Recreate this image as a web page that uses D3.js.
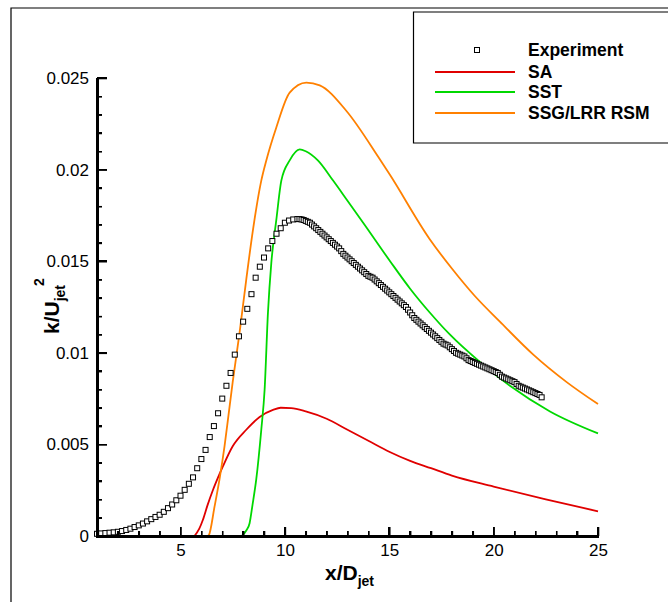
<!DOCTYPE html>
<html>
<head>
<meta charset="utf-8">
<script src="https://cdn.jsdelivr.net/npm/d3@7"></script>
<style>
  body { margin: 0; background: #fff; }
  #chart { position: relative; width: 668px; height: 602px; }
  svg { display: block; font-family: "Liberation Sans", Arial, Helvetica, sans-serif; }
  .tick text { font-size: 17px; fill: #000; }
  .legend text { font-size: 17.5px; font-weight: bold; }
  .ink { position: absolute; background: #000; }
</style>
</head>
<body>
<div id="chart"></div>
<script>
const xTicks = [5, 10, 15, 20, 25];
const xMinorTicks = [2, 3, 4, 6, 7, 8, 9, 11, 12, 13, 14, 16, 17, 18, 19, 21, 22, 23, 24];
const yTicks = [0, 0.005, 0.01, 0.015, 0.02, 0.025];
const yTickLabels = ["0", "0.005", "0.01", "0.015", "0.02", "0.025"];
const yMinorTicks = [0.001, 0.002, 0.003, 0.004, 0.006, 0.007, 0.008, 0.009, 0.011, 0.012, 0.013, 0.014,
  0.016, 0.017, 0.018, 0.019, 0.021, 0.022, 0.023, 0.024];

const seriesNames = ["Experiment", "SA", "SST", "SSG/LRR RSM"];

const experiment = [
  [1.0, 0.00012], [1.2, 0.00014], [1.4, 0.00016], [1.6, 0.00018], [1.8, 0.0002], [2.0, 0.00023],
  [2.2, 0.00027], [2.4, 0.00033], [2.6, 0.0004], [2.8, 0.00049], [3.0, 0.00058], [3.2, 0.00068],
  [3.4, 0.0008], [3.6, 0.00092], [3.8, 0.00104], [4.0, 0.00116], [4.2, 0.00132], [4.4, 0.00152],
  [4.6, 0.00172], [4.8, 0.00195], [5.0, 0.0022], [5.2, 0.00252], [5.4, 0.00285], [5.6, 0.0032],
  [5.8, 0.0037], [6.0, 0.0042], [6.2, 0.0047], [6.4, 0.0054], [6.6, 0.006], [6.8, 0.0067],
  [7.0, 0.0075], [7.2, 0.0082], [7.4, 0.0089], [7.6, 0.0099], [7.8, 0.0109], [8.0, 0.0117],
  [8.2, 0.0124], [8.4, 0.0132], [8.6, 0.0141], [8.8, 0.0147], [9.0, 0.0152], [9.2, 0.0157],
  [9.4, 0.0161], [9.6, 0.0165], [9.8, 0.0168], [10.0, 0.0171], [10.2, 0.01722], [10.4, 0.01728],
  [10.6, 0.0173], [10.7, 0.0173], [10.8, 0.01728], [10.9, 0.01725], [11.0, 0.0172], [11.1, 0.01715],
  [11.2, 0.0171], [11.3, 0.017], [11.4, 0.0169], [11.5, 0.0168], [11.6, 0.0167], [11.7, 0.0166],
  [11.8, 0.0165], [11.9, 0.0164], [12.0, 0.0163], [12.1, 0.0162], [12.2, 0.0161], [12.3, 0.016],
  [12.4, 0.0159], [12.5, 0.0158], [12.6, 0.0157], [12.7, 0.01555], [12.8, 0.0154], [12.9, 0.0153],
  [13.0, 0.0152], [13.1, 0.0151], [13.2, 0.015], [13.3, 0.0149], [13.4, 0.0148], [13.5, 0.0147],
  [13.6, 0.0146], [13.7, 0.0145], [13.8, 0.0144], [13.9, 0.0143], [14.0, 0.0142], [14.1, 0.01415],
  [14.2, 0.0141], [14.3, 0.014], [14.4, 0.0139], [14.5, 0.0138], [14.6, 0.0137], [14.7, 0.0136],
  [14.8, 0.0135], [14.9, 0.0134], [15.0, 0.0133], [15.1, 0.0132], [15.2, 0.0131], [15.3, 0.013],
  [15.4, 0.0129], [15.5, 0.0128], [15.6, 0.0127], [15.7, 0.0126], [15.8, 0.0125], [15.9, 0.01235],
  [16.0, 0.0122], [16.1, 0.01205], [16.2, 0.0119], [16.3, 0.0118], [16.4, 0.0117], [16.5, 0.0116],
  [16.6, 0.0115], [16.7, 0.0114], [16.8, 0.0113], [16.9, 0.0112], [17.0, 0.0111], [17.1, 0.011],
  [17.2, 0.0109], [17.3, 0.0108], [17.4, 0.0107], [17.5, 0.0106], [17.6, 0.0105], [17.7, 0.01045],
  [17.8, 0.0104], [17.9, 0.0103], [18.0, 0.0102], [18.1, 0.0101], [18.2, 0.01], [18.3, 0.00995],
  [18.4, 0.0099], [18.5, 0.00985], [18.6, 0.0098], [18.7, 0.0097], [18.8, 0.0096], [18.9, 0.00955],
  [19.0, 0.0095], [19.1, 0.00945], [19.2, 0.0094], [19.3, 0.00935], [19.4, 0.0093], [19.5, 0.00925],
  [19.6, 0.0092], [19.7, 0.00915], [19.8, 0.0091], [19.9, 0.00905], [20.0, 0.009], [20.1, 0.00895],
  [20.2, 0.0089], [20.3, 0.0088], [20.4, 0.0087], [20.5, 0.00865], [20.6, 0.0086], [20.7, 0.00855],
  [20.8, 0.0085], [20.9, 0.00845], [21.0, 0.0084], [21.1, 0.0083], [21.2, 0.0082], [21.3, 0.00815],
  [21.4, 0.0081], [21.5, 0.00805], [21.6, 0.008], [21.7, 0.00795], [21.8, 0.0079], [21.9, 0.00785],
  [22.0, 0.0078], [22.1, 0.00775], [22.2, 0.0077], [22.3, 0.00757]
];

const sa = [
  [5.67, 0], [5.9, 0.0004], [6.07, 0.00087], [6.3, 0.0017], [6.55, 0.0025], [6.8, 0.0032],
  [7.03, 0.0038], [7.5, 0.0049], [8.15, 0.0058], [8.79, 0.0065], [9.43, 0.00688], [9.8, 0.007],
  [10.3, 0.00698], [11.0, 0.0068], [12.0, 0.0064], [13.0, 0.0058], [14.0, 0.0052], [15.0, 0.0046],
  [16.0, 0.0041], [17.0, 0.0037], [18.0, 0.0033], [20.0, 0.0027], [22.5, 0.002], [25.0, 0.00135]
];

const sst = [
  [7.9, 0], [7.97, 0.00005], [8.15, 0.0003], [8.31, 0.0007], [8.45, 0.0017], [8.63, 0.0031],
  [8.87, 0.0058], [9.03, 0.008], [9.19, 0.0122], [9.35, 0.0149], [9.59, 0.01725], [9.83, 0.0194],
  [10.23, 0.0205], [10.71, 0.0211], [11.0, 0.021], [11.58, 0.0205], [12.31, 0.0194], [13.0, 0.0183],
  [13.75, 0.0171], [15.04, 0.015], [16.0, 0.0135], [16.94, 0.0122], [17.9, 0.011], [19.34, 0.0095],
  [20.78, 0.0082], [22.7, 0.0068], [25.0, 0.0056]
];

const rsm = [
  [6.3, 0], [6.36, 0.00005], [6.63, 0.0016], [6.87, 0.0031], [7.11, 0.0049], [7.3, 0.0066],
  [7.5, 0.0084], [7.83, 0.0111], [8.15, 0.014], [8.47, 0.0167], [8.87, 0.0194], [9.11, 0.0205],
  [9.59, 0.0223], [10.23, 0.0242], [11.03, 0.02475], [11.67, 0.0246], [12.95, 0.0232], [14.47, 0.0207],
  [15.04, 0.0197], [16.94, 0.0162], [18.0, 0.0146], [19.1, 0.0131], [20.3, 0.0117], [21.9, 0.0099],
  [23.5, 0.0084], [25.0, 0.0072]
];

const width = 668, height = 602;
const plot = { left: 97, right: 598, top: 78, bottom: 536 };

const chart = d3.select("#chart");
const svg = chart.append("svg")
  .attr("width", width)
  .attr("height", height);

const x = d3.scaleLinear().domain([1, 25]).range([plot.left, plot.right]);
const y = d3.scaleLinear().domain([0, 0.025]).range([plot.bottom, plot.top]);

// outer frame (left + top only visible)
svg.append("path")
  .attr("d", "M11,602 V8 H668")
  .attr("fill", "none")
  .attr("stroke", "#000")
  .attr("stroke-width", 1.2);

const line = d3.line()
  .x(d => x(d[0]))
  .y(d => y(d[1]))
  .curve(d3.curveMonotoneX);

const models = [
  { data: sa, color: "#e00000" },
  { data: sst, color: "#00d800" },
  { data: rsm, color: "#ff8000" }
];

models.forEach(m => {
  svg.append("path")
    .datum(m.data)
    .attr("d", line)
    .attr("fill", "none")
    .attr("stroke", m.color)
    .attr("stroke-width", 1.8);
});

svg.append("g")
  .selectAll("rect")
  .data(experiment)
  .join("rect")
  .attr("x", d => x(d[0]) - 2.5)
  .attr("y", d => y(d[1]) - 2.5)
  .attr("width", 5)
  .attr("height", 5)
  .attr("fill", "#fff")
  .attr("stroke", "#000")
  .attr("stroke-width", 1);

// d3 axes: inward ticks plus labels
const yAxis = d3.axisLeft(y)
  .tickValues(yTicks)
  .tickFormat((d, i) => yTickLabels[i])
  .tickSizeInner(-10)
  .tickSizeOuter(0)
  .tickPadding(8);

const yMinor = d3.axisLeft(y)
  .tickValues(yMinorTicks)
  .tickFormat(() => "")
  .tickSizeInner(-5)
  .tickSizeOuter(0);

const xAxis = d3.axisBottom(x)
  .tickValues(xTicks)
  .tickFormat(d3.format("d"))
  .tickSizeInner(-9)
  .tickSizeOuter(0)
  .tickPadding(8);

const xMinor = d3.axisBottom(x)
  .tickValues(xMinorTicks)
  .tickFormat(() => "")
  .tickSizeInner(-5)
  .tickSizeOuter(0);

function styleAxis(g) {
  g.select(".domain").attr("stroke-width", 2.5);
  g.selectAll(".tick line").attr("stroke-width", 1.6);
  g.selectAll(".tick text").attr("font-family", null).attr("font-size", null);
}

svg.append("g").attr("transform", `translate(${plot.left},0)`).call(yMinor).call(styleAxis);
svg.append("g").attr("transform", `translate(0,${plot.bottom})`).call(xMinor).call(styleAxis);
svg.append("g").attr("transform", `translate(${plot.left},0)`).call(yAxis).call(styleAxis);
svg.append("g").attr("transform", `translate(0,${plot.bottom})`).call(xAxis).call(styleAxis);

// axis titles
const xTitle = svg.append("text")
  .attr("x", 325)
  .attr("y", 580)
  .attr("font-size", 21)
  .attr("font-weight", "bold");
xTitle.append("tspan").text("x/D");
xTitle.append("tspan").attr("font-size", 14).attr("dy", 6).text("jet");

const yTitle = svg.append("text")
  .attr("transform", "translate(59,334) rotate(-90)")
  .attr("font-size", 21)
  .attr("font-weight", "bold");
yTitle.append("tspan").text("k/U");
yTitle.append("tspan").attr("font-size", 14).attr("dy", 6).text("jet");
yTitle.append("tspan").attr("font-size", 14).attr("dx", -1).attr("dy", -21).text("2");

// legend
const legend = svg.append("g").attr("class", "legend");
legend.append("path")
  .attr("d", "M668,12 H413.5 V143 H668")
  .attr("fill", "#fff")
  .attr("stroke", "#000")
  .attr("stroke-width", 1.2);

const legendRows = [50, 72, 92, 113];
legend.append("rect")
  .attr("x", 474.5).attr("y", legendRows[0] - 2.5)
  .attr("width", 5).attr("height", 5)
  .attr("fill", "#fff").attr("stroke", "#000");

models.forEach((m, i) => {
  legend.append("line")
    .attr("x1", 435).attr("x2", 515)
    .attr("y1", legendRows[i + 1]).attr("y2", legendRows[i + 1])
    .attr("stroke", m.color)
    .attr("stroke-width", 1.8);
});

seriesNames.forEach((name, i) => {
  legend.append("text")
    .attr("x", 528)
    .attr("y", legendRows[i] + 6)
    .text(name);
});

// backup axis ink as html blocks over the svg, placed with the same scales
const overlay = chart.append("div")
  .style("position", "absolute").style("left", "0px").style("top", "0px")
  .style("width", width + "px").style("height", height + "px")
  .style("pointer-events", "none");

function bar(x0, y0, w, h) {
  overlay.append("div").attr("class", "ink")
    .style("left", x0 + "px").style("top", y0 + "px")
    .style("width", w + "px").style("height", h + "px");
}
bar(x.range()[0] - 1, y.range()[1], 2.5, y.range()[0] - y.range()[1] + 1.5);
bar(x.range()[0] - 1, y.range()[0] - 1, x.range()[1] - x.range()[0] + 2, 2.5);
yTicks.forEach(d => bar(x.range()[0], y(d) - 0.8, 10, 1.6));
yMinorTicks.forEach(d => bar(x.range()[0], y(d) - 0.65, 5, 1.3));
xTicks.forEach(d => bar(x(d) - 0.8, y.range()[0] - 9, 1.6, 9));
xMinorTicks.forEach(d => bar(x(d) - 0.65, y.range()[0] - 5, 1.3, 5));
</script>
</body>
</html>
